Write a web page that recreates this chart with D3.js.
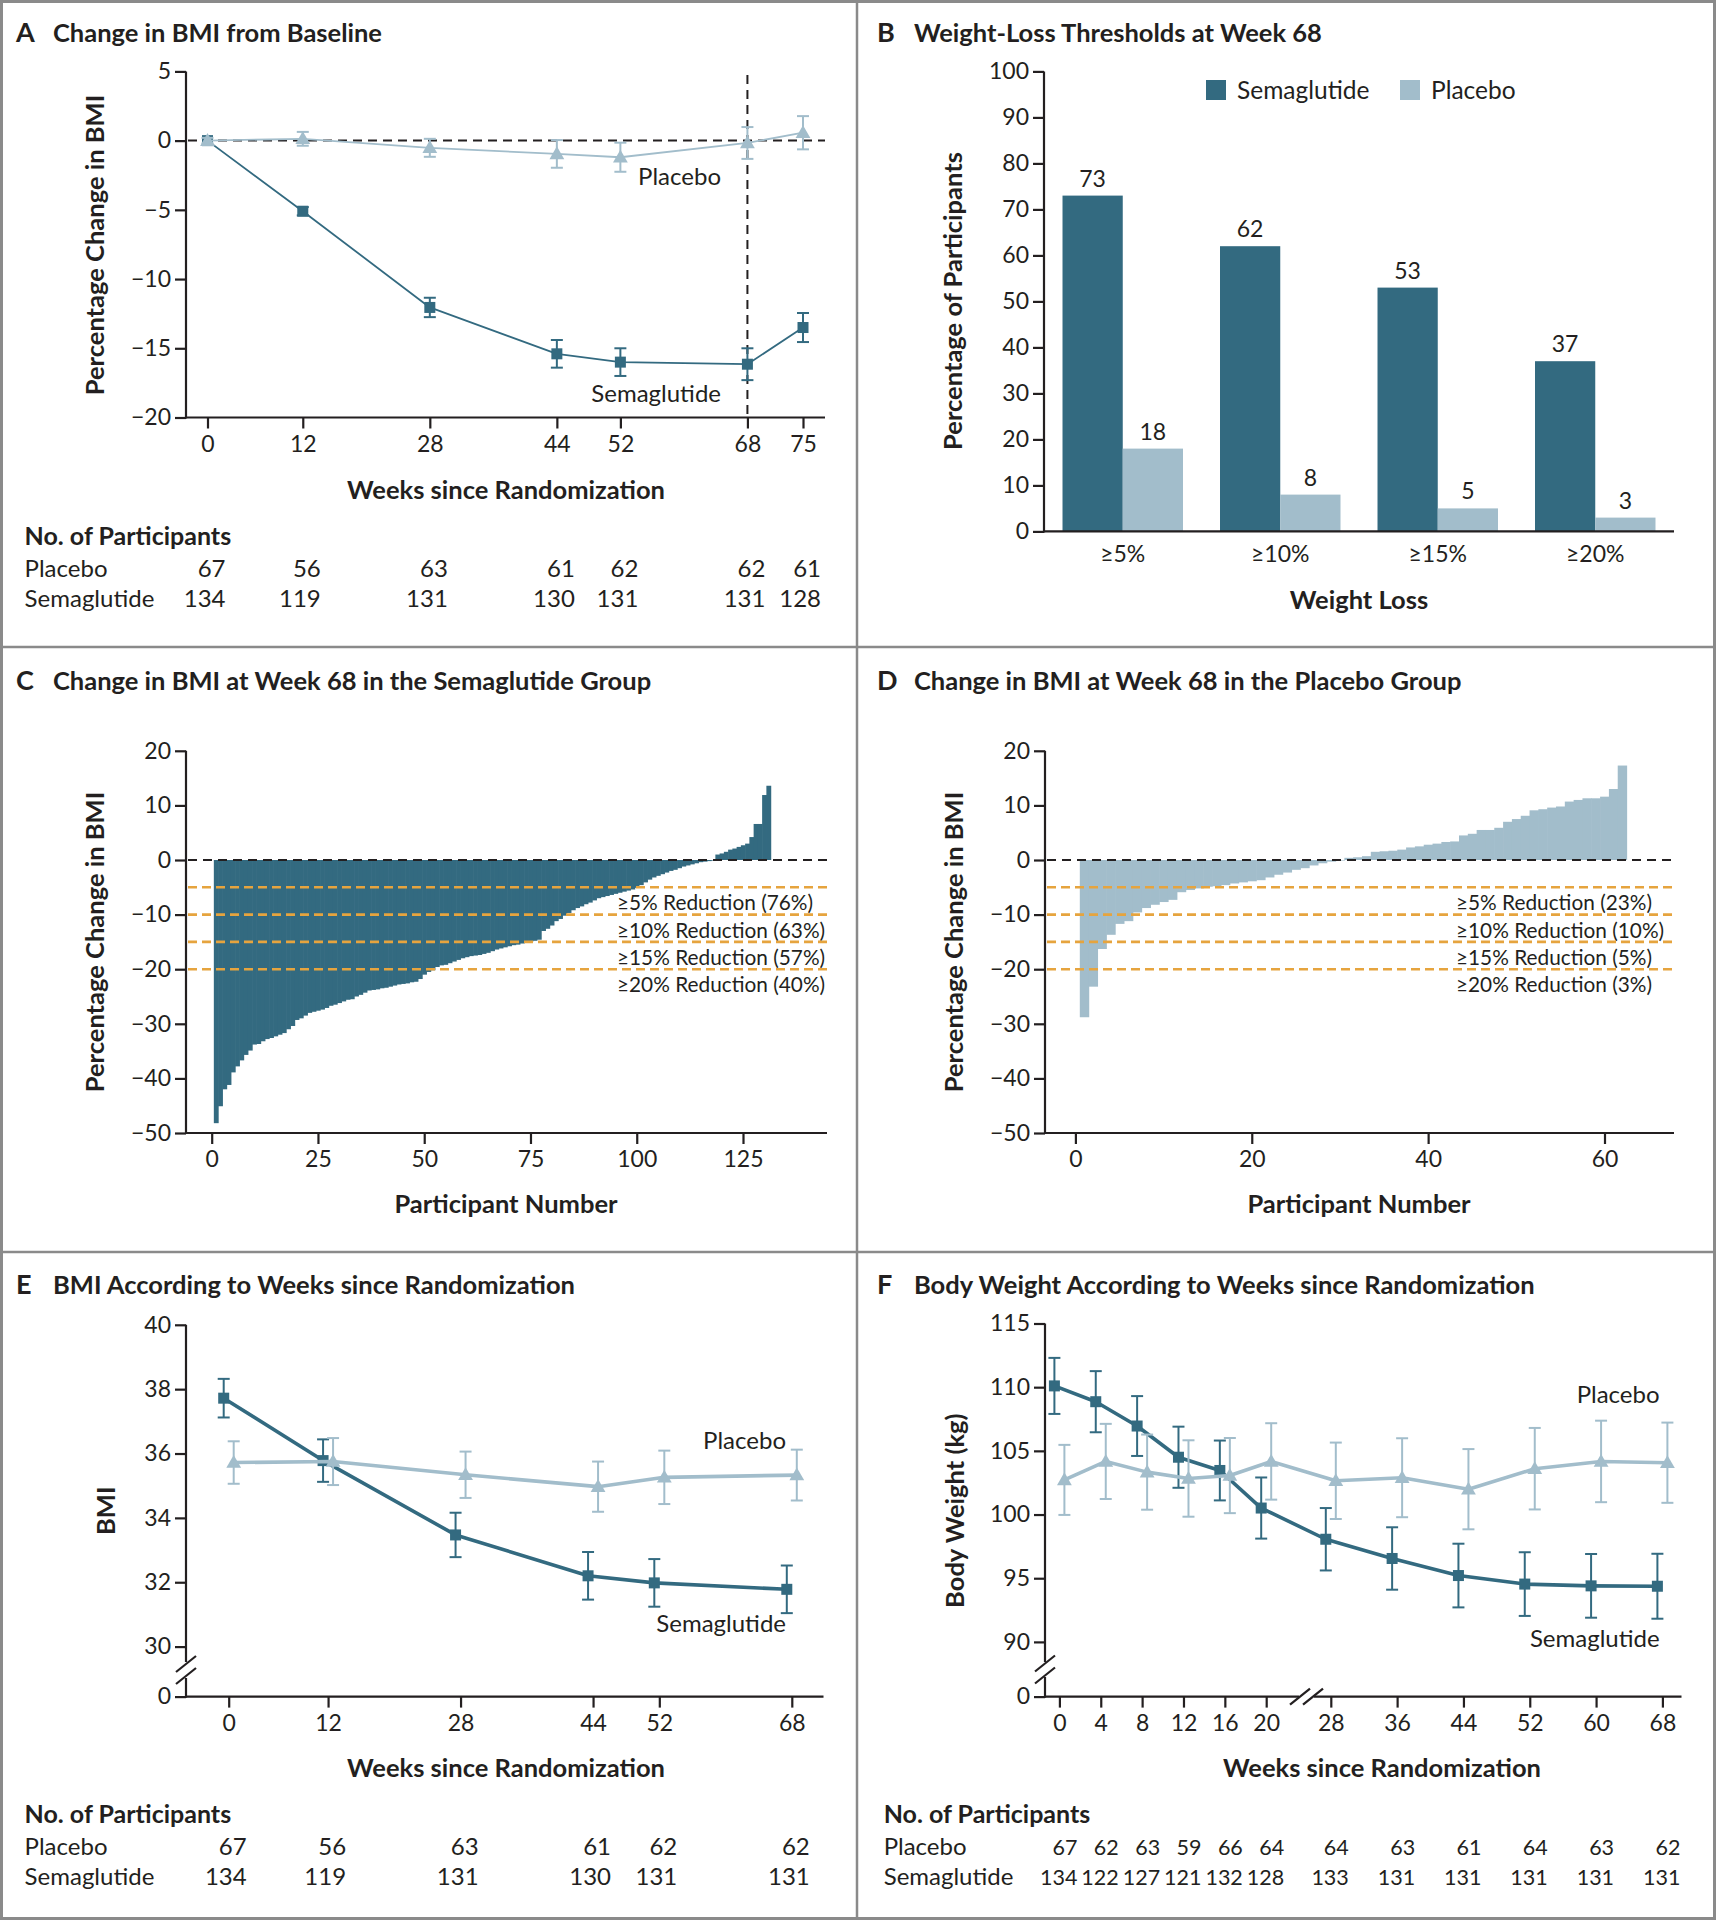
<!DOCTYPE html>
<html>
<head>
<meta charset="utf-8">
<script src="https://cdn.jsdelivr.net/npm/d3@7"></script>
<style>
  html, body { margin: 0; padding: 0; background: #fff; }
  svg { display: block; font-family: Lato, "Open Sans", sans-serif; }
</style>
</head>
<body>
<svg id="fig" width="1716" height="1920"></svg>
<script>
// ---- data ----
// A: percentage change in BMI
const weeksA = [0, 12, 28, 44, 52, 68, 75];
const semaA = [0, -5.1, -12.05, -15.4, -16.0, -16.15, -13.5];
const semaAErr = [0, 0.3, 0.7, 1.0, 1.0, 1.15, 1.05];
const placA = [0, 0.13, -0.52, -0.96, -1.2, -0.17, 0.57];
const placAErr = [0.2, 0.5, 0.65, 1.0, 1.05, 1.15, 1.2];
const nPlacA = [67, 56, 63, 61, 62, 62, 61];
const nSemaA = [134, 119, 131, 130, 131, 131, 128];

// B: weight-loss thresholds at week 68
const thresholds = ['≥5%', '≥10%', '≥15%', '≥20%'];
const semaB = [73, 62, 53, 37];
const placB = [18, 8, 5, 3];

// C: waterfall, semaglutide group (131 participants, sorted)
const semaC = [
  -48.2, -45.1, -42.0, -41.2, -38.9, -37.8, -36.7, -35.7, -34.9, -33.8,
  -33.7, -33.2, -32.8, -32.6, -32.3, -32.0, -31.7, -31.0, -30.4, -29.3,
  -29.0, -28.5, -28.0, -27.8, -27.6, -27.4, -27.1, -26.7, -26.5, -26.2,
  -25.9, -25.6, -25.5, -25.0, -24.7, -24.3, -23.9, -23.8, -23.7, -23.5,
  -23.4, -23.2, -23.0, -22.8, -22.7, -22.6, -22.4, -22.3, -21.8, -21.0,
  -20.5, -20.2, -19.6, -19.3, -19.2, -18.9, -18.6, -18.3, -18.0, -17.8,
  -17.6, -17.5, -17.4, -17.2, -17.0, -16.7, -16.4, -16.2, -16.0, -15.8,
  -15.6, -15.5, -15.3, -15.2, -15.0, -14.8, -14.6, -13.0, -12.6, -12.0,
  -11.2, -10.8, -10.2, -9.7, -9.2, -8.8, -8.5, -8.1, -7.8, -7.4,
  -7.0, -6.8, -6.6, -6.4, -6.2, -6.0, -5.8, -5.6, -5.4, -5.1,
  -4.6, -4.1, -3.6, -3.2, -2.9, -2.6, -2.3, -2.0, -1.8, -1.5,
  -1.2, -1.0, -0.8, -0.6, -0.4, -0.3, -0.2, -0.1,
  1.0, 1.2, 1.5, 1.9, 2.1, 2.4, 2.7, 3.0, 4.2, 6.6, 6.6, 11.9, 13.6
];
const semaCNotes = ['≥5% Reduction (76%)', '≥10% Reduction (63%)', '≥15% Reduction (57%)', '≥20% Reduction (40%)'];

// D: waterfall, placebo group (62 participants, sorted)
const placD = [
  -28.8, -23.2, -16.3, -13.7, -11.7, -11.2, -9.6, -8.8, -8.2, -7.7,
  -7.3, -5.9, -5.5, -5.2, -4.9, -4.8, -4.6, -4.3, -4.1, -3.9,
  -3.7, -3.2, -2.7, -2.3, -1.8, -1.5, -1.0, -0.6, -0.3, -0.1,
  0.4, 0.5, 0.7, 1.5, 1.6, 1.7, 1.9, 2.3, 2.5, 2.8,
  3.0, 3.3, 3.4, 4.5, 4.8, 5.5, 5.5, 5.9, 7.0, 7.5,
  8.1, 9.1, 9.3, 9.6, 9.8, 10.7, 11.0, 11.3, 11.3, 11.6,
  13.0, 17.3
];
const placDNotes = ['≥5% Reduction (23%)', '≥10% Reduction (10%)', '≥15% Reduction (5%)', '≥20% Reduction (3%)'];
const cutoffs = [-5, -10, -15, -20];

// E: BMI
const weeksE = [0, 12, 28, 44, 52, 68];
const semaE = [37.72, 35.78, 33.47, 32.2, 31.98, 31.78];
const semaEErr = [0.6, 0.66, 0.69, 0.74, 0.74, 0.74];
const placE = [35.72, 35.75, 35.34, 34.97, 35.26, 35.33];
const placEErr = [0.66, 0.73, 0.72, 0.78, 0.83, 0.79];
const nPlacE = [67, 56, 63, 61, 62, 62];
const nSemaE = [134, 119, 131, 130, 131, 131];

// F: body weight
const weeksF = [0, 4, 8, 12, 16, 20, 28, 36, 44, 52, 60, 68];
const semaF = [110.1, 108.86, 106.95, 104.5, 103.46, 100.51, 98.06, 96.55, 95.21, 94.54, 94.4, 94.37];
const semaFErr = [2.2, 2.4, 2.35, 2.4, 2.35, 2.4, 2.45, 2.45, 2.5, 2.5, 2.5, 2.55];
const placF = [102.72, 104.17, 103.33, 102.83, 103.06, 104.17, 102.65, 102.89, 101.99, 103.6, 104.17, 104.07];
const placFErr = [2.75, 2.95, 2.95, 3.0, 2.95, 3.0, 3.0, 3.1, 3.15, 3.2, 3.2, 3.15];
const nPlacF = [67, 62, 63, 59, 66, 64, 64, 63, 61, 64, 63, 62];
const nSemaF = [134, 122, 127, 121, 132, 128, 133, 131, 131, 131, 131, 131];

// ---- styling ----
const INK = '#231f20', DARK = '#336a80', LIGHT = '#a2bdcb', ORANGE = '#e6a43e', FRAME = '#8a8a8a';
const svg = d3.select('#fig');
const fmt = d3.format('d');

function txt(g, x, y, s, size, opts = {}) {
  return g.append('text').attr('x', x).attr('y', y).attr('font-size', size)
    .attr('font-weight', opts.bold ? 700 : 400).attr('fill', INK)
    .attr('text-anchor', opts.anchor || 'start').text(s);
}
function title(letter, s, x, y) {
  txt(svg, x, y, letter, 27, { bold: true });
  txt(svg, x + 37, y, s, 25.5, { bold: true });
}
function rotLabel(s, x, y) {
  svg.append('text').attr('transform', `translate(${x},${y}) rotate(-90)`)
    .attr('text-anchor', 'middle').attr('font-size', 25.5).attr('font-weight', 700)
    .attr('fill', INK).text(s);
}
function line(g, x1, y1, x2, y2, w = 2.2, dash = null, color = INK) {
  const l = g.append('line').attr('x1', x1).attr('y1', y1).attr('x2', x2).attr('y2', y2)
    .attr('stroke', color).attr('stroke-width', w);
  if (dash) l.attr('stroke-dasharray', dash);
  return l;
}
function styleAxis(sel) {
  sel.select('.domain').remove();
  sel.selectAll('.tick line').attr('stroke', INK).attr('stroke-width', 2.2);
  sel.selectAll('.tick text').attr('fill', INK).attr('font-size', 23)
    .attr('font-family', 'Lato, "Open Sans", sans-serif');
}
function yAxis(scale, x, ticks) {
  svg.append('g').attr('transform', `translate(${x},0)`)
    .call(d3.axisLeft(scale).tickValues(ticks).tickSize(11).tickPadding(4).tickFormat(fmt))
    .call(styleAxis);
}
function xAxis(scale, y, ticks, f) {
  svg.append('g').attr('transform', `translate(0,${y})`)
    .call(d3.axisBottom(scale).tickValues(ticks).tickSize(11).tickPadding(7).tickFormat(f || fmt))
    .call(styleAxis);
}
function slashes(cx, cy, dx, dy, gap) {
  // axis break mark: two parallel strokes
  [-gap / 2, gap / 2].forEach(o => {
    const ox = dy === 0 ? o : 0, oy = dy === 0 ? 0 : o;
    line(svg, cx + ox - 10, cy + oy + 8, cx + ox + 10, cy + oy - 8, 2.2);
  });
}
function series(x, y, weeks, vals, errs, color, shape, dx, lw) {
  const g = svg.append('g');
  g.append('path').datum(vals)
    .attr('d', d3.line().x((d, i) => x(weeks[i]) + dx).y(d => y(d)))
    .attr('fill', 'none').attr('stroke', color).attr('stroke-width', lw).attr('stroke-linejoin', 'round');
  vals.forEach((v, i) => {
    const cx = x(weeks[i]) + dx, e = errs[i];
    if (!e) return;
    line(g, cx, y(v + e), cx, y(v - e), 2, null, color);
    line(g, cx - 6, y(v + e), cx + 6, y(v + e), 2, null, color);
    line(g, cx - 6, y(v - e), cx + 6, y(v - e), 2, null, color);
  });
  if (shape === 'square') {
    g.selectAll('rect').data(vals).enter().append('rect')
      .attr('x', (d, i) => x(weeks[i]) + dx - 5.5).attr('y', d => y(d) - 5.5)
      .attr('width', 11).attr('height', 11).attr('fill', color);
  } else {
    g.selectAll('path.tri').data(vals).enter().append('path').attr('class', 'tri')
      .attr('transform', (d, i) => `translate(${x(weeks[i]) + dx},${y(d) + 1})`)
      .attr('d', d3.symbol(d3.symbolTriangle).size(95)).attr('fill', color);
  }
}
function countRows(x, weeks, plac, sema, left, y0, numSize = 24) {
  txt(svg, left, y0, 'No. of Participants', 25, { bold: true });
  txt(svg, left, y0 + 32, 'Placebo', 24);
  txt(svg, left, y0 + 62, 'Semaglutide', 24);
  weeks.forEach((w, i) => {
    txt(svg, x(w) + 18, y0 + 32, plac[i], numSize, { anchor: 'end' });
    txt(svg, x(w) + 18, y0 + 62, sema[i], numSize, { anchor: 'end' });
  });
}

// ---- frame ----
svg.append('rect').attr('x', 1.5).attr('y', 1.5).attr('width', 1713).attr('height', 1917)
  .attr('fill', 'none').attr('stroke', FRAME).attr('stroke-width', 3);
line(svg, 857, 0, 857, 1920, 2.5, null, FRAME);
line(svg, 0, 647, 1716, 647, 2.5, null, FRAME);
line(svg, 0, 1252, 1716, 1252, 2.5, null, FRAME);

// ---- A ----
{
  const x = d3.scaleLinear().domain([0, 75]).range([207.5, 803]);
  const y = d3.scaleLinear().domain([-20, 5]).range([417.5, 71.4]);
  title('A', 'Change in BMI from Baseline', 16, 41.6);
  line(svg, 186, y(5), 186, y(-20) + 1.1);
  line(svg, 186, y(-20), 825, y(-20));
  yAxis(y, 186, d3.range(-20, 6, 5));
  xAxis(x, y(-20), weeksA);
  line(svg, 188, y(0), 825, y(0), 2, '9,6');
  line(svg, x(68), 75, x(68), y(-20), 2, '9,6');
  series(x, y, weeksA, semaA, semaAErr, DARK, 'square', 0, 1.8);
  series(x, y, weeksA, placA, placAErr, LIGHT, 'tri', 0, 1.8);
  txt(svg, 721, 185, 'Placebo', 24, { anchor: 'end' });
  txt(svg, 721, 402, 'Semaglutide', 24, { anchor: 'end' });
  rotLabel('Percentage Change in BMI', 104, 245);
  txt(svg, 506, 499, 'Weeks since Randomization', 25.5, { bold: true, anchor: 'middle' });
  countRows(x, weeksA, nPlacA, nSemaA, 24.6, 545);
}

// ---- B ----
{
  const y = d3.scaleLinear().domain([0, 100]).range([531.4, 71.4]);
  const x = d3.scaleBand().domain(thresholds).range([1044, 1674]).paddingInner(0.235).paddingOuter(0.1175);
  const xs = d3.scaleBand().domain(['sema', 'plac']).range([0, x.bandwidth()]);
  title('B', 'Weight-Loss Thresholds at Week 68', 877, 41.6);
  const groups = svg.append('g').selectAll('g').data(thresholds).enter().append('g')
    .attr('transform', d => `translate(${x(d)},0)`);
  [['sema', semaB, DARK], ['plac', placB, LIGHT]].forEach(([k, vals, c]) => {
    groups.append('rect').attr('x', xs(k)).attr('width', xs.bandwidth())
      .attr('y', (d, i) => y(vals[i])).attr('height', (d, i) => y(0) - y(vals[i])).attr('fill', c);
    groups.append('text').attr('x', xs(k) + xs.bandwidth() / 2).attr('y', (d, i) => y(vals[i]) - 9)
      .attr('text-anchor', 'middle').attr('font-size', 23).attr('fill', INK).text((d, i) => vals[i]);
  });
  line(svg, 1044, y(100), 1044, y(0) + 1.1);
  line(svg, 1044, y(0), 1674, y(0));
  yAxis(y, 1044, d3.range(0, 101, 10));
  svg.append('g').attr('transform', `translate(0,${y(0)})`)
    .call(d3.axisBottom(x).tickSize(0).tickPadding(14)).call(styleAxis);
  svg.append('rect').attr('x', 1206).attr('y', 80).attr('width', 20).attr('height', 20).attr('fill', DARK);
  txt(svg, 1237, 99, 'Semaglutide', 24.5);
  svg.append('rect').attr('x', 1400).attr('y', 80).attr('width', 20).attr('height', 20).attr('fill', LIGHT);
  txt(svg, 1431, 99, 'Placebo', 24.5);
  rotLabel('Percentage of Participants', 962, 301);
  txt(svg, 1359, 609, 'Weight Loss', 25.5, { bold: true, anchor: 'middle' });
}

// ---- C and D: waterfalls ----
function waterfall(vals, color, x, xLeft, xRight, ticks, notes, noteX) {
  const y = d3.scaleLinear().domain([-50, 20]).range([1133, 750.8]);
  svg.append('g').selectAll('rect').data(vals).enter().append('rect')
    .attr('x', (d, i) => x(i + 0.5)).attr('width', x(1) - x(0) + 0.6)
    .attr('y', d => y(Math.max(0, d))).attr('height', d => Math.abs(y(d) - y(0)))
    .attr('fill', color);
  line(svg, xLeft, y(20), xLeft, y(-50) + 1.1);
  line(svg, xLeft, y(-50), xRight, y(-50));
  yAxis(y, xLeft, d3.range(-50, 21, 10));
  xAxis(x, y(-50), ticks);
  line(svg, xLeft + 2, y(0), xRight, y(0), 2, '9,6');
  cutoffs.forEach((c, i) => {
    line(svg, xLeft + 2, y(c), xRight + 3, y(c), 2.6, '9,5', ORANGE);
    txt(svg, noteX, y(c) + 23, notes[i], 20.8);
  });
  return y;
}
{
  const x = d3.scaleLinear().domain([0, 125]).range([211.7, 743]);
  title('C', 'Change in BMI at Week 68 in the Semaglutide Group', 16, 689.6);
  waterfall(semaC, DARK, x, 186, 827, d3.range(0, 126, 25), semaCNotes, 617);
  rotLabel('Percentage Change in BMI', 104, 942);
  txt(svg, 506, 1213, 'Participant Number', 25.5, { bold: true, anchor: 'middle' });
}
{
  const x = d3.scaleLinear().domain([0, 60]).range([1075.4, 1604.5]);
  title('D', 'Change in BMI at Week 68 in the Placebo Group', 877, 689.6);
  waterfall(placD, LIGHT, x, 1045, 1674, [0, 20, 40, 60], placDNotes, 1456);
  rotLabel('Percentage Change in BMI', 963, 942);
  txt(svg, 1359, 1213, 'Participant Number', 25.5, { bold: true, anchor: 'middle' });
}

// ---- E ----
{
  const x = d3.scaleLinear().domain([0, 68]).range([228.7, 791.8]);
  const y = d3.scaleLinear().domain([0, 30, 40]).range([1696.6, 1646.6, 1324.8]);
  title('E', 'BMI According to Weeks since Randomization', 16, 1293.6);
  line(svg, 186, y(40), 186, 1662);
  line(svg, 186, 1678, 186, y(0) + 1.1);
  slashes(186, 1670, 0, 1, 12);
  line(svg, 186, y(0), 823.5, y(0));
  yAxis(y, 186, [0, 30, 32, 34, 36, 38, 40]);
  xAxis(x, y(0), weeksE);
  series(x, y, weeksE, semaE, semaEErr, DARK, 'square', -5, 3.6);
  series(x, y, weeksE, placE, placEErr, LIGHT, 'tri', 5, 3.6);
  txt(svg, 786, 1449, 'Placebo', 24, { anchor: 'end' });
  txt(svg, 786, 1632, 'Semaglutide', 24, { anchor: 'end' });
  rotLabel('BMI', 115, 1510.7);
  txt(svg, 506, 1777, 'Weeks since Randomization', 25.5, { bold: true, anchor: 'middle' });
  countRows(x, weeksE, nPlacE, nSemaE, 24.6, 1823);
}

// ---- F ----
{
  const x = d3.scaleLinear().domain([0, 20, 28, 68]).range([1059.4, 1266.2, 1330.8, 1662.4]);
  const y = d3.scaleLinear().domain([0, 90, 115]).range([1696.6, 1641.9, 1323.5]);
  title('F', 'Body Weight According to Weeks since Randomization', 877, 1293.6);
  line(svg, 1045, y(115), 1045, 1662);
  line(svg, 1045, 1677, 1045, y(0) + 1.1);
  slashes(1045, 1669.5, 0, 1, 12);
  line(svg, 1045, y(0), 1299, y(0));
  line(svg, 1314, y(0), 1681.5, y(0));
  slashes(1306.5, y(0), 1, 0, 13);
  yAxis(y, 1045, [0, 90, 95, 100, 105, 110, 115]);
  xAxis(x, y(0), weeksF);
  series(x, y, weeksF, semaF, semaFErr, DARK, 'square', -5, 3.6);
  series(x, y, weeksF, placF, placFErr, LIGHT, 'tri', 5, 3.6);
  txt(svg, 1659.6, 1403, 'Placebo', 24, { anchor: 'end' });
  txt(svg, 1659.6, 1647, 'Semaglutide', 24, { anchor: 'end' });
  rotLabel('Body Weight (kg)', 964, 1510.7);
  txt(svg, 1382, 1777, 'Weeks since Randomization', 25.5, { bold: true, anchor: 'middle' });
  countRows(x, weeksF, nPlacF, nSemaF, 883.7, 1823, 21.5);
}
</script>
</body>
</html>
